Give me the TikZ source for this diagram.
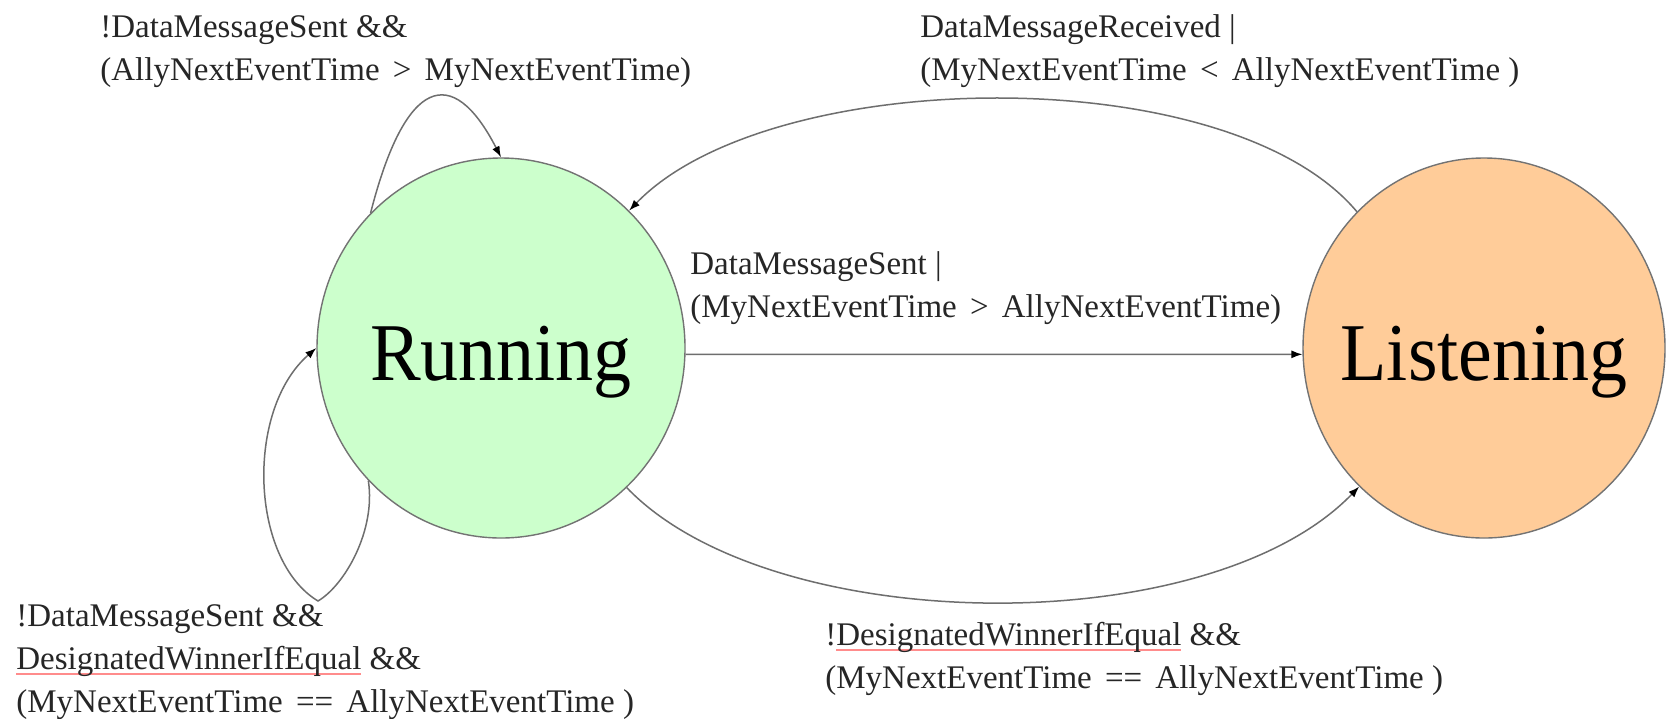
\documentclass[tikz,border=0pt]{standalone}
\usepackage{fontspec}
\setmainfont{Liberation Serif}
\usetikzlibrary{arrows.meta,shapes.geometric}

\definecolor{runfill}{RGB}{204,255,204}
\definecolor{lisfill}{RGB}{255,204,153}
\definecolor{edgegray}{RGB}{110,110,110}

% spell-check style mark under a word
\newlength\markwidth
\newcommand\spellmark[1]{\settowidth{\markwidth}{#1}\rlap{\textcolor{red!45}{\rule[-3pt]{\markwidth}{0.9pt}}}#1}
\newcommand\op[1]{\hspace{0.4em}#1\hspace{0.4em}}
% state name that does not widen its ellipse
\newcommand\statename[1]{\makebox[0pt]{\scalebox{1}[1.08]{#1}}}

\begin{document}
\begin{tikzpicture}[x=0.5pt,y=-0.5pt,
  statenode/.style={ellipse,draw=black!55,line width=0.7pt,inner sep=0pt,
    minimum width=184pt,minimum height=190pt,
    font=\fontsize{38}{40}\selectfont,text height=32pt,text depth=0pt},
  conn/.style={draw=edgegray,line width=0.75pt,
    -{Latex[length=5.5pt,width=4pt,color=black]}},
  cond/.style={anchor=base west,align=left,inner sep=0pt,text=black!85,
    font=\fontsize{16.5}{21.5}\selectfont}]

\fill[white] (0,0) rectangle (1669,718);
\useasboundingbox (0,0) rectangle (1669,718);

% states
\node[statenode,fill=runfill] (run) at (501,348) {\statename{Running}};
\node[statenode,fill=lisfill,minimum width=181pt] (lis) at (1484,348) {\statename{Listening}};

% transitions
\draw[conn] (run.134) .. controls (405,78) and (452,62) .. (run.90);
\coordinate (lbot) at (318,601);
\draw[conn] (run.225) .. controls (376,530) and (345,585) .. (lbot)
                      .. controls (250,560) and (245,410) .. (run.180);
\draw[conn] (lis.133) .. controls (1228,58) and (769,65) .. (run.47);
\draw[conn] (run.-2) -- (lis.-178);
\draw[conn] (run.-48) .. controls (771,638) and (1208,643) .. (lis.-132);

% transition conditions (anchored at the baseline of the last line)
\node[cond] (c1) at (100,80) {!DataMessageSent \&\&\\(AllyNextEventTime\op{>}MyNextEventTime)};
\node[cond] (c2) at (920,80) {DataMessageReceived |\\(MyNextEventTime\op{<}AllyNextEventTime )};
\node[cond] (c3) at (690,317) {DataMessageSent |\\(MyNextEventTime\op{>}AllyNextEventTime)};
\node[cond] (c4) at (16,712) {!DataMessageSent \&\&\\\spellmark{DesignatedWinnerIfEqual} \&\&\\(MyNextEventTime\op{==}AllyNextEventTime )};
\node[cond] (c5) at (825,688) {!\spellmark{DesignatedWinnerIfEqual} \&\&\\(MyNextEventTime\op{==}AllyNextEventTime )};
\end{tikzpicture}
\end{document}
